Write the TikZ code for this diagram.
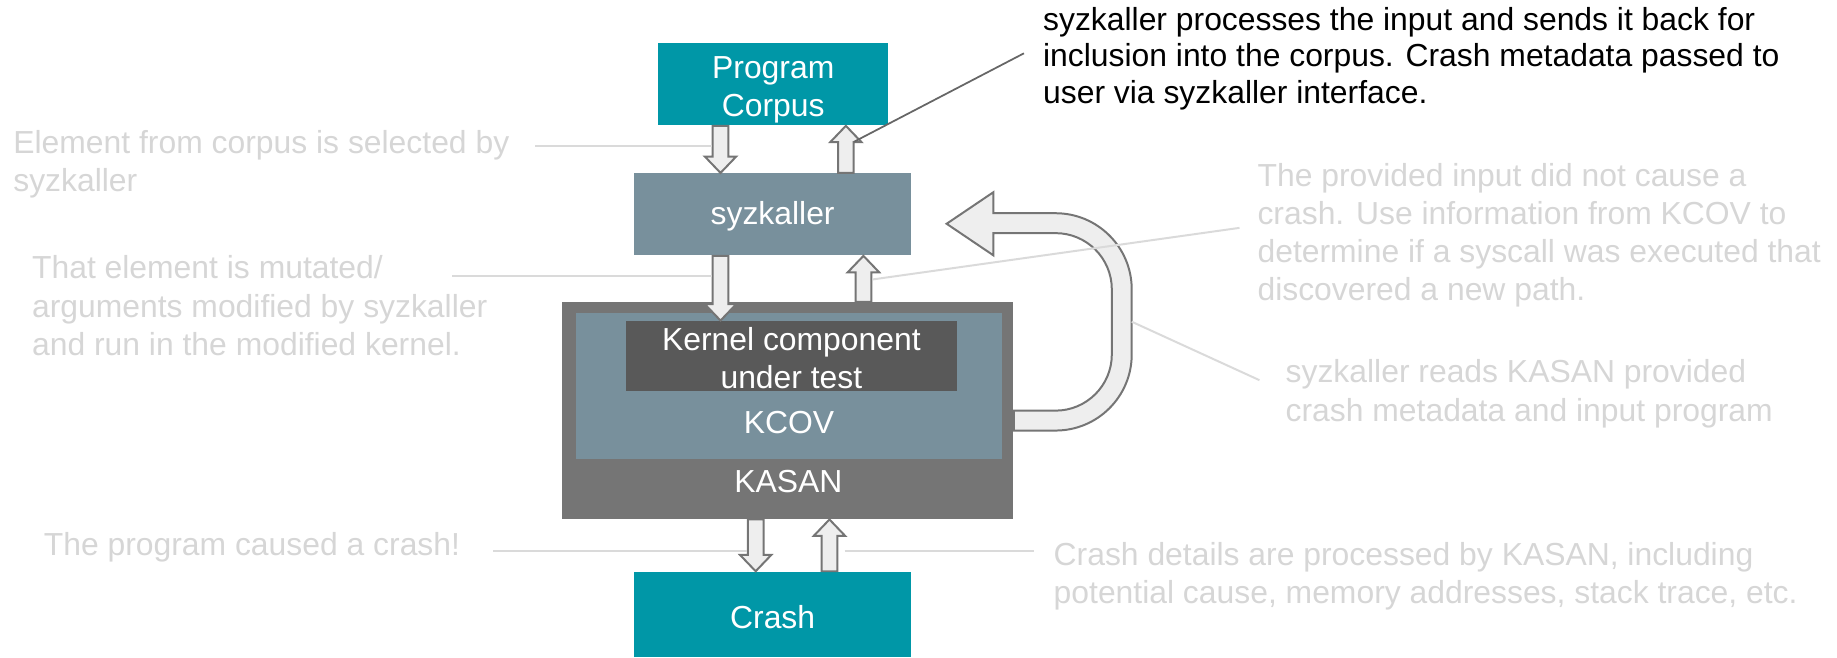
\documentclass[tikz,border=0pt]{standalone}
\usepackage{fontspec}
\setmainfont{Liberation Sans}
\usetikzlibrary{calc}

\definecolor{corpusteal}{HTML}{0097A7}
\definecolor{bluegrey}{HTML}{78909C}
\definecolor{kasangrey}{HTML}{757575}
\definecolor{kernelgrey}{HTML}{595959}
\definecolor{arrowfill}{HTML}{EEEEEE}
\definecolor{arrowedge}{HTML}{757575}
\definecolor{notegrey}{HTML}{D6D6D6}
\definecolor{leadergrey}{HTML}{DADADA}
\definecolor{calloutline}{HTML}{666666}

\newcommand\dgboxfont{\fontsize{13.6pt}{16.3pt}\selectfont}
\newcommand\dgnotefont{\fontsize{13.6pt}{16.2pt}\selectfont}
\newcommand\dgcalloutfont{\fontsize{13.6pt}{15.65pt}\selectfont}

\begin{document}
\begin{tikzpicture}[x=0.5pt,y=-0.5pt,
  box/.style={rectangle, draw=none, inner sep=0pt, text=white, font=\dgboxfont, align=center},
  lbl/.style={inner sep=0pt, text=white, font=\dgboxfont, align=center},
  note/.style={anchor=north west, inner sep=0pt, align=left, text=notegrey, font=\dgnotefont},
  callout/.style={anchor=north west, inner sep=0pt, align=left, text=black, font=\dgcalloutfont},
  leader/.style={draw=leadergrey, line width=0.85pt},
  calloutleader/.style={draw=calloutline, line width=0.75pt},
  blockarrow/.style={draw=arrowedge, fill=arrowfill, line width=0.85pt, line join=miter,
    to path={let \p1=(\tikztostart), \p2=(\tikztotarget),
      \n1={ifthenelse(\y2>\y1,1,-1)} in
      ({\x1-3.35pt},\y1) -- ({\x1-3.35pt},{\y2-(\n1)*7pt})
      -- ({\x1-6.7pt},{\y2-(\n1)*7pt}) -- (\x1,\y2)
      -- ({\x1+6.7pt},{\y2-(\n1)*7pt}) -- ({\x1+3.35pt},{\y2-(\n1)*7pt})
      -- ({\x1+3.35pt},\y1) -- cycle}},
  uturn/.style={draw=arrowedge, fill=arrowfill, line width=0.85pt, line join=miter}
]
\useasboundingbox (0,0) rectangle (1568,561);

% kernel stack: KASAN around KCOV around the component under test
\node[box, fill=kasangrey, minimum width=192.5pt, minimum height=92.5pt] (kasan) at (672.5,350.5) {};
\node[box, fill=bluegrey, minimum width=181.5pt, minimum height=62.5pt] (kcov) at (673.5,329.5) {};
\node[box, fill=kernelgrey, minimum width=141.5pt, minimum height=30pt] (kcomp) at (675.5,304) {};
\node[lbl] (kcomplabel) at (675.5,306) {Kernel component\\under test};
\node[lbl] (kcovlabel) at (673.5,361) {KCOV};
\node[lbl] (kasanlabel) at (673,411) {KASAN};

% corpus, fuzzer and crash boxes
\node[box, fill=corpusteal, minimum width=98pt, minimum height=35pt] (corpus) at (660,72) {};
\node[lbl] (corpuslabel) at (660,77) {Program\\Corpus};
\node[box, fill=bluegrey, minimum width=118.5pt, minimum height=35pt] (syz) at (659.5,183) {};
\node[lbl] (syzlabel) at (659.5,185) {syzkaller};
\node[box, fill=corpusteal, minimum width=118.5pt, minimum height=36.5pt] (crash) at (659.5,524.5) {};
\node[lbl] (crashlabel) at (659.5,526.5) {Crash};

% vertical guides for the block arrows
\coordinate (ga) at (615,0);
\coordinate (gb) at (722,0);
\coordinate (gc) at (737,0);
\coordinate (gd) at (645,0);
\coordinate (ge) at (708,0);

% block arrows between the boxes
\draw[blockarrow] (corpus.south -| ga) to (syz.north -| ga);
\draw[blockarrow] (syz.north -| gb) to (corpus.south -| gb);
\draw[blockarrow] (syz.south -| ga) to (kcomp.north -| ga);
\draw[blockarrow] (kasan.north -| gc) to (syz.south -| gc);
\draw[blockarrow] (kasan.south -| gd) to (crash.north -| gd);
\draw[blockarrow] (crash.north -| ge) to (kasan.south -| ge);

% feedback loop from the kernel back to syzkaller
\draw[uturn] (kasan.east) -- (901,350.5) arc (90:0:48) -- (949,247) arc (0:-90:48)
  -- (848,199) -- (848,218) -- (808,191) -- (848,164) -- (848,182)
  -- (901,182) arc (-90:0:65) -- (966,302.5) arc (0:90:65)
  -- (kasan.east |- 0,367.5) -- cycle;

% notes
\node[callout] (procnote) at (890,5.7) {syzkaller processes the input and sends it back for\\inclusion into the corpus. Crash metadata passed to\\user via syzkaller interface.};
\node[note] (selnote) at (11,111) {Element from corpus is selected by\\syzkaller};
\node[note, font=\fontsize{13.6pt}{16.5pt}\selectfont] (mutnote) at (27,217.7) {That element is mutated/\\arguments modified by syzkaller\\and run in the modified kernel.};
\node[note] (pathnote) at (1073,139) {The provided input did not cause a\\crash. Use information from KCOV to\\determine if a syscall was executed that\\discovered a new path.};
\node[note, font=\fontsize{13.6pt}{16.8pt}\selectfont] (readnote) at (1097,306) {syzkaller reads KASAN provided\\crash metadata and input program};
\node[note] (crashnote) at (37,454) {The program caused a crash!};
\node[note] (detailnote) at (899,463) {Crash details are processed by KASAN, including\\potential cause, memory addresses, stack trace, etc.};

% leader line ends
\coordinate (selend) at (457,125);
\coordinate (selarrow) at (608,125);
\coordinate (mutend) at (386,236);
\coordinate (mutarrow) at (608,236);
\coordinate (crashend) at (421,470);
\coordinate (crasharrow) at (638,470);
\coordinate (detailarrow) at (721,470);
\coordinate (detailend) at (883,470);
\coordinate (patharrow) at (745,238.5);
\coordinate (pathend) at (1058,194.5);
\coordinate (loopside) at (966,274.6);
\coordinate (readend) at (1075,324.5);
\coordinate (procarrow) at (729,121);
\coordinate (procend) at (874,45.5);

\draw[leader] (selend) -- (selarrow);
\draw[leader] (mutend) -- (mutarrow);
\draw[leader] (crashend) -- (crasharrow);
\draw[leader] (detailarrow) -- (detailend);
\draw[leader] (patharrow) -- (pathend);
\draw[leader] (loopside) -- (readend);
\draw[calloutleader] (procarrow) -- (procend);
\end{tikzpicture}
\end{document}
